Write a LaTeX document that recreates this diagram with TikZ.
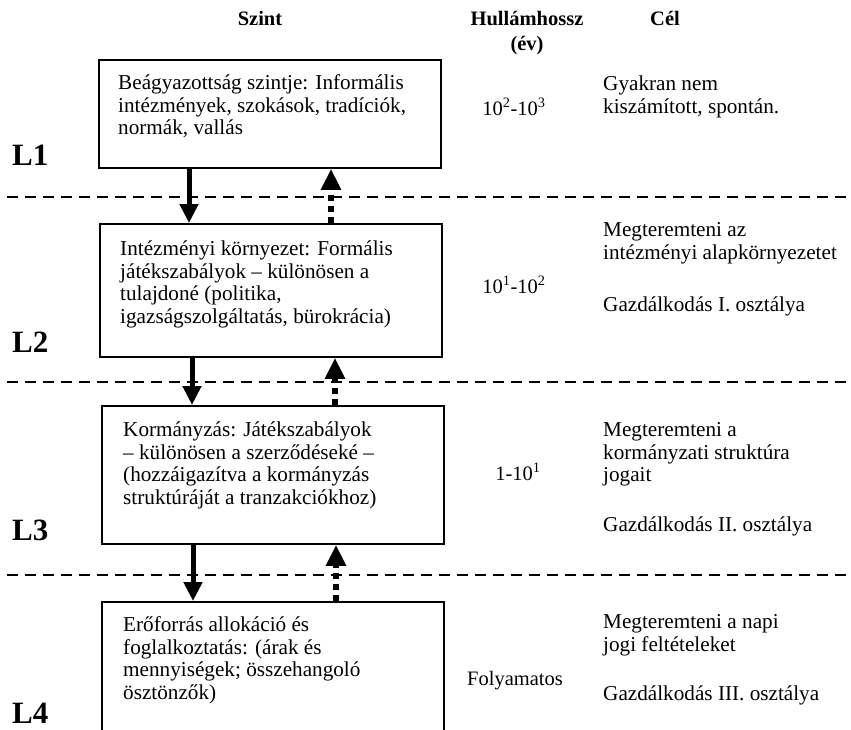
\documentclass[tikz,border=0pt]{standalone}
\usepackage{fontspec}
\setmainfont{Liberation Serif}
\usetikzlibrary{arrows.meta}
\begin{document}
\begin{tikzpicture}[x=1pt,y=-1pt,
  body/.style={font=\fontsize{21.2}{22.8}\selectfont, inner sep=0pt, align=left, anchor=north west, yshift=15.96pt},
  mid/.style={font=\fontsize{20.5}{22.5}\selectfont, inner sep=0pt, anchor=base},
  head/.style={font=\bfseries\fontsize{20.5}{25}\selectfont, inner sep=0pt, align=center, anchor=north, yshift=17.5pt},
  lvl/.style={font=\bfseries\fontsize{31}{31}\selectfont, inner sep=0pt, anchor=base west},
  levelbox/.style={draw, line width=1.8pt, anchor=north west, minimum width=342pt, inner sep=0pt},
  sep/.style={line width=2.5pt, dash pattern=on 11pt off 7pt, dash phase=11pt},
  down/.style={line width=5pt, -{Triangle[width=18pt,length=19pt]}},
  up/.style={line width=6pt, dash pattern=on 6pt off 5pt, -{Triangle[width=19pt,length=21pt]}}
]
\useasboundingbox (0,0) rectangle (851,729);
\clip (0,0) rectangle (851,729);

% headers
\node[head] (hszint) at (260,25) {\strut Szint};
\node[head] (hhullam) at (527,25) {\strut Hullámhossz\\(év)};
\node[head] (hcel) at (665,25) {\strut Cél};

% boxes
\node[levelbox, minimum height=108pt] (b1) at (98,59) {};
\node[levelbox, minimum height=133pt] (b2) at (99,223) {};
\node[levelbox, minimum height=138pt] (b3) at (101,405) {};
\node[levelbox, minimum height=180pt] (b4) at (101,601) {};

% box texts
\node[body] (t1) at (118,89) {\strut Beágyazottság szintje: Informális\\intézmények, szokások, tradíciók,\\normák, vallás};
\node[body] (t2) at (120,255) {\strut Intézményi környezet: Formális\\játékszabályok – különösen a\\tulajdoné (politika,\\igazságszolgáltatás, bürokrácia)};
\node[body] (t3) at (123,436) {\strut Kormányzás: Játékszabályok\\– különösen a szerződéseké –\\(hozzáigazítva a kormányzás\\struktúráját a tranzakciókhoz)};
\node[body] (t4) at (123,631) {\strut Erőforrás allokáció és\\foglalkoztatás: (árak és\\mennyiségek; összehangoló\\ösztönzők)};

% level labels
\node[lvl] (l1) at (12,165) {L1};
\node[lvl] (l2) at (12,352) {L2};
\node[lvl] (l3) at (12,540) {L3};
\node[lvl] (l4) at (12,723) {L4};

% wavelength column
\node[mid] (w1) at (514,115) {10\textsuperscript{2}-10\textsuperscript{3}};
\node[mid] (w2) at (514,293) {10\textsuperscript{1}-10\textsuperscript{2}};
\node[mid] (w3) at (518,480) {1-10\textsuperscript{1}};
\node[mid] (w4) at (515,685) {Folyamatos};

% goal column
\node[body] (g1) at (603,90) {\strut Gyakran nem\\kiszámított, spontán.};
\node[body] (g2) at (603,236) {\strut Megteremteni az\\intézményi alapkörnyezetet};
\node[body] (g2b) at (603,311) {\strut Gazdálkodás I. osztálya};
\node[body] (g3) at (603,436) {\strut Megteremteni a\\kormányzati struktúra\\jogait};
\node[body] (g3b) at (603,531) {\strut Gazdálkodás II. osztálya};
\node[body] (g4) at (603,628) {\strut Megteremteni a napi\\jogi feltételeket};
\node[body] (g4b) at (603,700) {\strut Gazdálkodás III. osztálya};

% separators
\coordinate (s1l) at (0,197); \coordinate (s1r) at (851,197);
\coordinate (s2l) at (0,382); \coordinate (s2r) at (851,382);
\coordinate (s3l) at (0,575); \coordinate (s3r) at (851,575);
\draw[sep] (s1l) -- (s1r);
\draw[sep] (s2l) -- (s2r);
\draw[sep] (s3l) -- (s3r);

% arrow columns
\coordinate (d1) at (189,0); \coordinate (u1) at (331,0);
\coordinate (d2) at (192,0); \coordinate (u2) at (335,0);
\coordinate (d3) at (193,0); \coordinate (u3) at (336,0);

\draw[down] (b1.south -| d1) -- (b2.north -| d1);
\draw[up] (b2.north -| u1) -- (b1.south -| u1);
\draw[down] (b2.south -| d2) -- (b3.north -| d2);
\draw[up] (b3.north -| u2) -- (b2.south -| u2);
\draw[down] (b3.south -| d3) -- (b4.north -| d3);
\draw[up] (b4.north -| u3) -- (b3.south -| u3);
\end{tikzpicture}
\end{document}
